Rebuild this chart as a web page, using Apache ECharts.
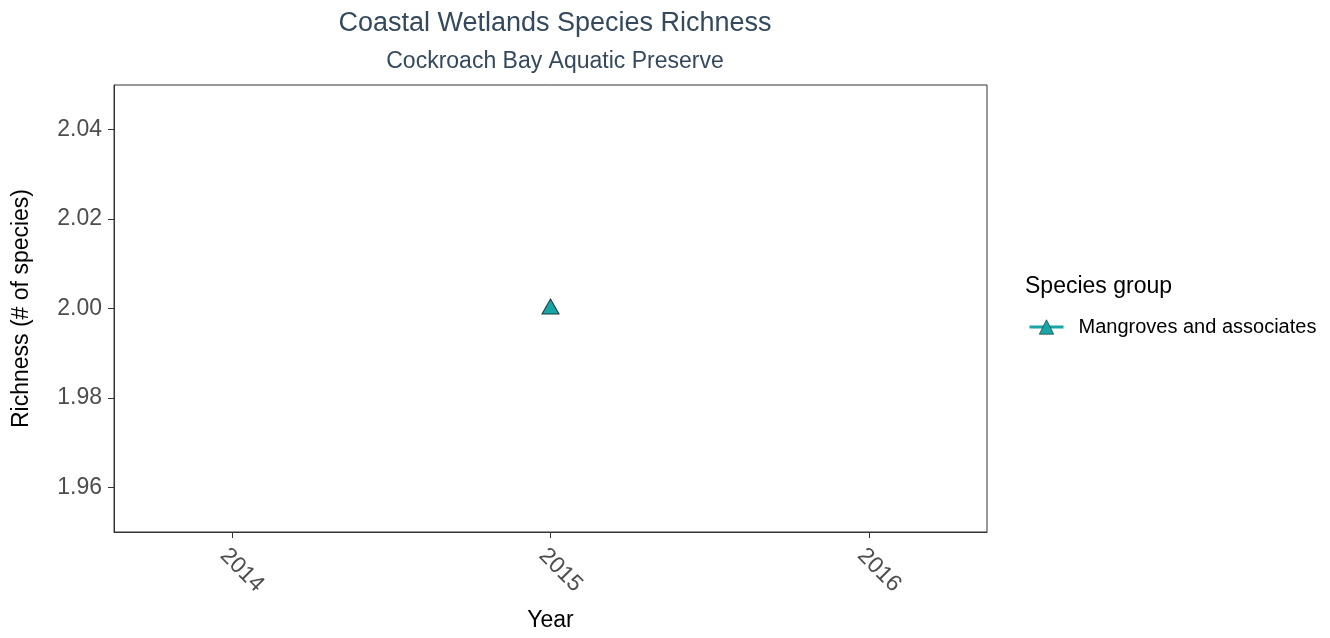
<!DOCTYPE html>
<html>
<head>
<meta charset="utf-8">
<script src="https://cdn.jsdelivr.net/npm/echarts@6/dist/echarts.min.js"></script>
<style>html,body{margin:0;padding:0;background:#fff;}#c{width:1330px;height:638px;}</style>
</head>
<body>
<div id="c"></div>
<script>
const seriesName = 'Mangroves and associates';
const years = [2015];
const richness = [2.00];
const xTicks = [2014, 2015, 2016];
const yTicks = [1.96, 1.98, 2.00, 2.02, 2.04];

const chart = echarts.init(document.getElementById('c'));
const font = 'Arial, "Liberation Sans", sans-serif';
chart.setOption({
  animation: false,
  backgroundColor: '#ffffff',
  title: [
    {text: 'Coastal Wetlands Species Richness', left: 550, top: 5, textAlign: 'center',
     textStyle: {fontFamily: font, fontSize: 27, fontWeight: 'normal', color: '#34495e'}},
    {text: 'Cockroach Bay Aquatic Preserve', left: 550, top: 45, textAlign: 'center',
     textStyle: {fontFamily: font, fontSize: 23, fontWeight: 'normal', color: '#34495e'}}
  ],
  grid: {left: 114, right: 343, top: 85, bottom: 106, show: true, borderColor: '#333', borderWidth: 1,
         containLabel: false, outerBoundsMode: 'none'},
  xAxis: {
    type: 'value', min: 2013.63, max: 2016.37,
    name: 'Year', nameLocation: 'middle', nameGap: 77,
    nameTextStyle: {fontFamily: font, fontSize: 23, color: '#000'},
    splitLine: {show: false},
    axisLine: {show: true, onZero: false, lineStyle: {color: '#333'}},
    axisTick: {show: true, length: 6, customValues: xTicks, lineStyle: {color: '#333'}},
    axisLabel: {customValues: xTicks, rotate: -45, margin: 12, verticalAlign: 'top',
      fontFamily: font, fontSize: 23, color: '#4d4d4d',
      formatter: v => String(Math.round(v))}
  },
  yAxis: {
    type: 'value', min: 1.95, max: 2.05,
    name: 'Richness (# of species)', nameLocation: 'middle', nameGap: 81, nameRotate: 90,
    nameTextStyle: {fontFamily: font, fontSize: 23, color: '#000'},
    splitLine: {show: false},
    axisLine: {show: true, onZero: false, lineStyle: {color: '#333'}},
    axisTick: {show: true, length: 6, customValues: yTicks, lineStyle: {color: '#333'}},
    axisLabel: {customValues: yTicks, margin: 12, fontFamily: font, fontSize: 23, color: '#4d4d4d',
      formatter: v => v.toFixed(2)}
  },
  legend: {
    orient: 'vertical', left: 1023, top: 312, itemWidth: 34, itemHeight: 18, itemGap: 10,
    textStyle: {fontFamily: font, fontSize: 20, color: '#000', padding: [0, 0, 0, 10]},
    lineStyle: {width: 3},
    data: [{name: seriesName, itemStyle: {borderWidth: 0.8, borderColor: '#2a4a4a'}}]
  },
  graphic: [
    {type: 'text', left: 1025, top: 275,
     style: {text: 'Species group', font: '23px ' + font, fill: '#000'}}
  ],
  series: [{
    name: seriesName, type: 'line',
    data: years.map((y, i) => [y, richness[i]]),
    symbol: 'triangle', symbolSize: [17, 15], symbolOffset: [0, -2],
    lineStyle: {color: '#17a5a5', width: 3},
    itemStyle: {color: '#17a5a5', borderColor: '#1a3a3a', borderWidth: 1}
  }]
});
</script>
</body>
</html>
